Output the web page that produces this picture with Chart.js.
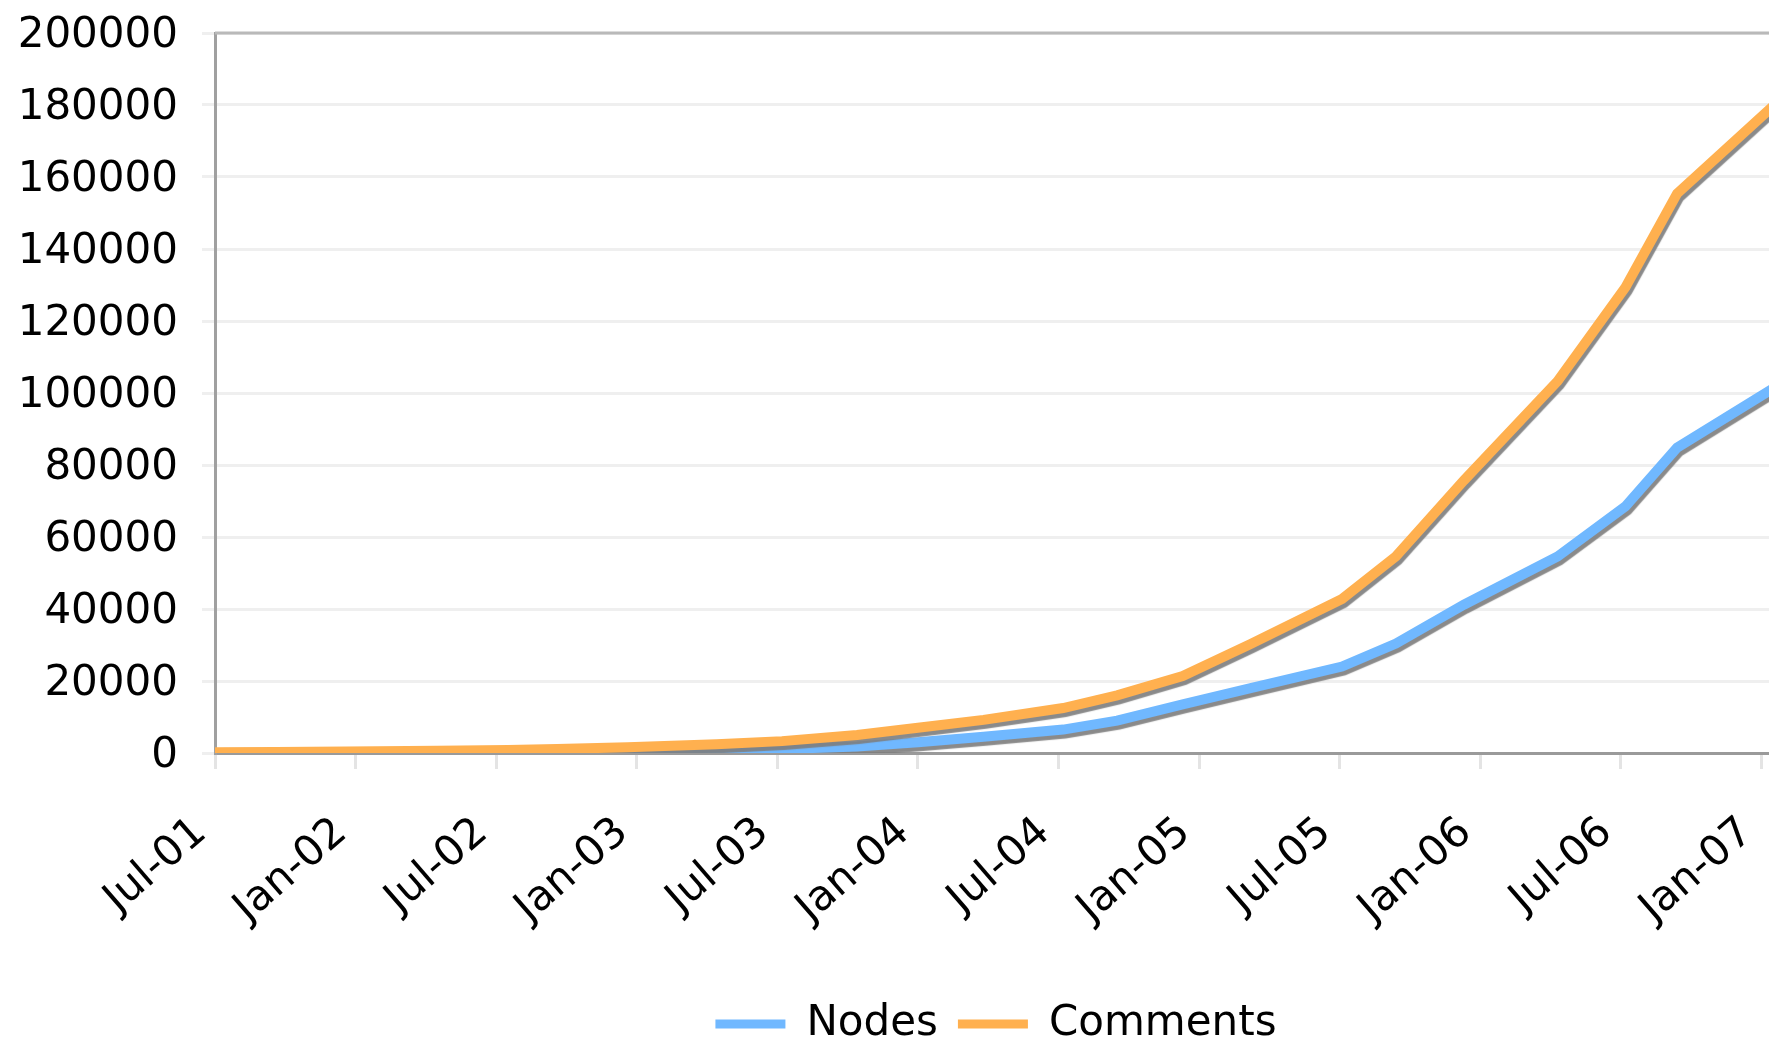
<!DOCTYPE html>
<html lang="en">
<head>
<meta charset="UTF-8">
<title>Nodes and Comments</title>
<script src="https://cdn.jsdelivr.net/npm/chart.js"></script>
<style>
    html, body { margin: 0; padding: 0; background: #fff; overflow: hidden; }
    #wrap { width: 1992px; height: 1055px; }
</style>
</head>
<body>
<div id="wrap">
    <canvas id="grafico" width="1992" height="1055"></canvas>
</div>
<script>
// months counted from Jul-01 (0 = Jul-01, 6 = Jan-02, ...)
const months   = [0, 2.6, 5.6, 9.5, 12.5, 14.6, 17.6, 21.4, 24.2, 27.4, 30.0, 32.8, 36.2, 38.5, 41.3, 44.2, 48.1, 50.4, 53.3, 57.3, 60.2, 62.4, 68.0];
const nodes    = [0, 50, 100, 150, 200, 300, 500, 800, 1100, 1800, 3000, 4500, 6500, 9000, 13500, 18000, 24000, 30400, 41200, 54600, 68500, 84800, 107300];
const comments = [200, 300, 400, 600, 800, 1100, 1600, 2400, 3300, 5000, 7000, 9200, 12500, 16000, 21400, 30300, 42800, 54600, 75700, 103300, 129400, 155400, 188600];

const monthNames = ['Jan','Feb','Mar','Apr','May','Jun','Jul','Aug','Sep','Oct','Nov','Dec'];
const yTicks = [0, 20000, 40000, 60000, 80000, 100000, 120000, 140000, 160000, 180000, 200000];

function monthLabel(v) {
    let m = 6 + v;               // Jul-2001 offset
    let year = 1 + Math.floor(m / 12);
    let name = monthNames[m % 12];
    return name + '-' + String(year).padStart(2, '0');
}

function toPoints(arr) {
    return months.map((m, i) => ({x: m, y: arr[i]}));
}

const FONT = {family: 'DejaVu Sans', size: 42};

// gray shadow under the lines
const sombra = {
    id: 'sombra',
    beforeDatasetDraw(chart) {
        const ctx = chart.ctx;
        ctx.save();
        ctx.shadowColor = 'rgba(125,125,125,0.9)';
        ctx.shadowOffsetX = 2;
        ctx.shadowOffsetY = 4;
        ctx.shadowBlur = 1;
    },
    afterDatasetDraw(chart) {
        chart.ctx.restore();
    }
};

// top border of the plot area
const bordeSuperior = {
    id: 'bordeSuperior',
    beforeDatasetsDraw(chart) {
        const {ctx, chartArea} = chart;
        ctx.save();
        ctx.strokeStyle = '#b9b9b9';
        ctx.lineWidth = 3;
        ctx.beginPath();
        ctx.moveTo(chartArea.left, chartArea.top);
        ctx.lineTo(chartArea.right, chartArea.top);
        ctx.stroke();
        ctx.restore();
    }
};

new Chart(document.getElementById('grafico').getContext('2d'), {
    type: 'line',
    data: {
        datasets: [
            {
                label: 'Comments',
                data: toPoints(comments),
                borderColor: '#ffb04f',
                backgroundColor: '#ffb04f',
                borderWidth: 10,
                pointRadius: 0,
                tension: 0,
                borderJoinStyle: 'miter'
            },
            {
                label: 'Nodes',
                data: toPoints(nodes),
                borderColor: '#70b8ff',
                backgroundColor: '#70b8ff',
                borderWidth: 10,
                pointRadius: 0,
                tension: 0,
                borderJoinStyle: 'miter'
            }
        ]
    },
    options: {
        responsive: false,
        animation: false,
        events: [],
        layout: {padding: {top: 33, left: 0, right: 0, bottom: 0}},
        plugins: {
            tooltip: {enabled: false},
            legend: {
                position: 'bottom',
                labels: {
                    font: FONT,
                    color: '#000',
                    boxWidth: 70,
                    boxHeight: 9,
                    padding: 20,
                    generateLabels: chart => Chart.defaults.plugins.legend.labels.generateLabels(chart)
                        .map(l => Object.assign(l, {lineWidth: 0})),
                    sort: (a, b) => b.datasetIndex - a.datasetIndex
                }
            }
        },
        scales: {
            x: {
                type: 'linear',
                min: 0,
                max: 75.84,
                afterFit: s => { s.height = 230; s.paddingLeft = 0; s.paddingRight = 0; },
                border: {color: '#9a9a9a', width: 3},
                grid: {drawOnChartArea: false, drawTicks: true, tickLength: 16, color: '#e4e4e4', lineWidth: 3},
                ticks: {
                    stepSize: 6,
                    includeBounds: false,
                    autoSkip: false,
                    minRotation: 41,
                    maxRotation: 41,
                    padding: 39,
                    labelOffset: -14,
                    font: FONT,
                    color: '#000',
                    callback: v => monthLabel(v)
                }
            },
            y: {
                min: yTicks[0],
                max: yTicks[yTicks.length - 1],
                afterFit: s => { s.width = 215; s.paddingTop = 0; s.paddingBottom = 0; },
                border: {color: '#a0a0a0', width: 3},
                grid: {color: '#efefef', lineWidth: 3, tickLength: 13},
                ticks: {
                    stepSize: 20000,
                    padding: 24,
                    labelOffset: 3,
                    font: FONT,
                    color: '#000',
                    callback: v => String(v)
                }
            }
        }
    },
    plugins: [sombra, bordeSuperior]
});
</script>
</body>
</html>
